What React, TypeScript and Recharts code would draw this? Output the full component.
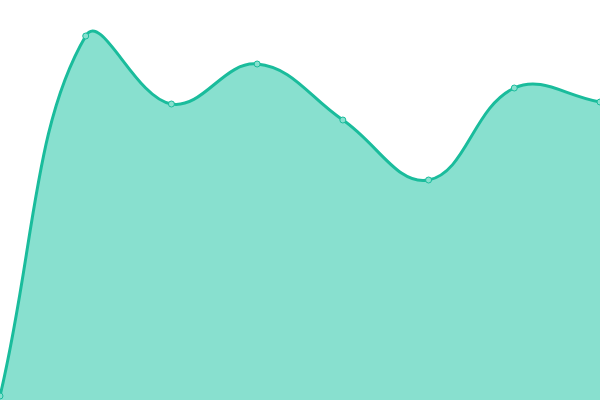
import React from 'react';
import { AreaChart, Area, XAxis, YAxis } from 'recharts';

const labels = ['A', 'B', 'C', 'D', 'E', 'F', 'G', 'H'];
const values = [1, 91, 74, 84, 70, 55, 78, 74.5];

const data = labels.map((name, i) => ({ name, value: values[i] }));

const TENSION = 0.4;
const W = 600;
const H = 400;

const clamp = (v: number, lo: number, hi: number) => Math.max(lo, Math.min(hi, v));

// spline like a tension-0.4 line chart, control points kept inside the plot
function tensionCurve(context: any) {
  let pts: [number, number][] = [];
  let line = NaN;
  return {
    areaStart() { line = 0; },
    areaEnd() { line = NaN; },
    lineStart() { pts = []; },
    point(x: number, y: number) { pts.push([+x, +y]); },
    lineEnd() {
      const n = pts.length;
      if (n) {
        if (line) context.lineTo(pts[0][0], pts[0][1]);
        else context.moveTo(pts[0][0], pts[0][1]);
        const cps = pts.map((cur, i) => {
          const prev = pts[i - 1] || cur;
          const next = pts[i + 1] || cur;
          const d01 = Math.hypot(cur[0] - prev[0], cur[1] - prev[1]);
          const d12 = Math.hypot(next[0] - cur[0], next[1] - cur[1]);
          const sum = d01 + d12 || 1;
          const fa = (TENSION * d01) / sum;
          const fb = (TENSION * d12) / sum;
          const dx = next[0] - prev[0];
          const dy = next[1] - prev[1];
          return {
            px: clamp(cur[0] - fa * dx, 0, W), py: clamp(cur[1] - fa * dy, 0, H),
            nx: clamp(cur[0] + fb * dx, 0, W), ny: clamp(cur[1] + fb * dy, 0, H),
          };
        });
        for (let i = 1; i < n; i++) {
          context.bezierCurveTo(cps[i - 1].nx, cps[i - 1].ny, cps[i].px, cps[i].py, pts[i][0], pts[i][1]);
        }
        if (line || (line !== 0 && n === 1)) context.closePath();
      }
      line = 1 - line;
    },
  };
}

export default function App() {
  return (
    <div style={{ position: 'absolute', top: 0, left: 0 }}>
      <AreaChart width={W} height={H} data={data} margin={{ top: 0, right: 0, bottom: 0, left: 0 }}>
        <XAxis dataKey="name" hide />
        <YAxis hide domain={[0, 100]} />
        <Area
          type={tensionCurve as any}
          dataKey="value"
          stroke="#1abc9c"
          strokeWidth={3}
          fill="#88e0cf"
          fillOpacity={1}
          dot={{ r: 3, fill: '#88e0cf', stroke: '#1abc9c', strokeWidth: 1 }}
          activeDot={false}
          isAnimationActive={false}
        />
      </AreaChart>
    </div>
  );
}
